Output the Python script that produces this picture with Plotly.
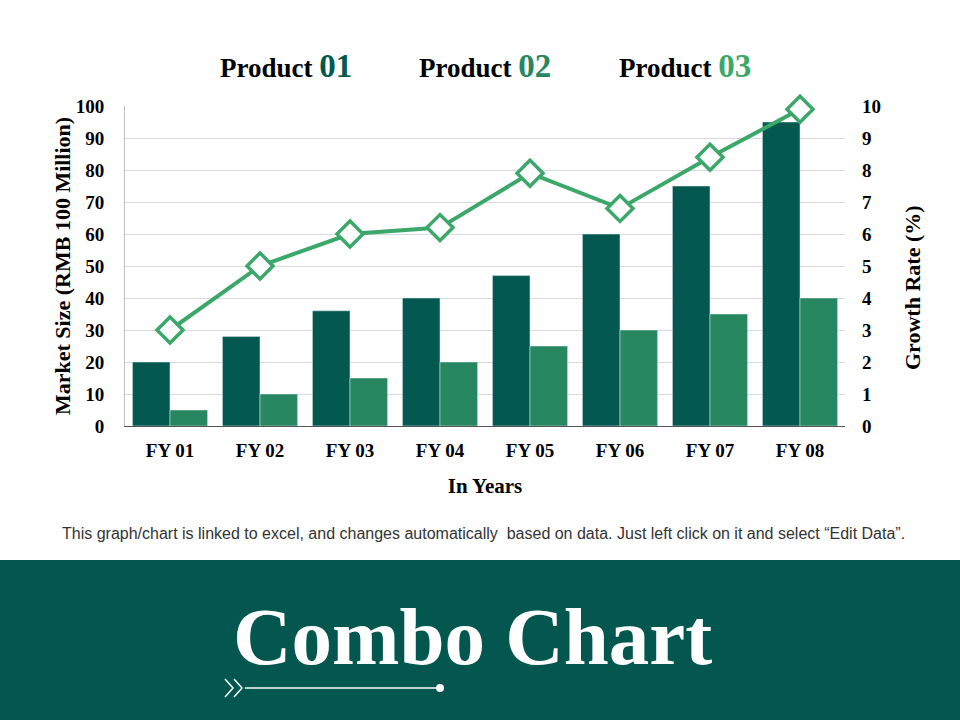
import plotly.graph_objects as go

years = ["FY 01", "FY 02", "FY 03", "FY 04", "FY 05", "FY 06", "FY 07", "FY 08"]
product_01 = [20, 28, 36, 40, 47, 60, 75, 95]
product_02 = [5, 10, 15, 20, 25, 30, 35, 40]
growth_03 = [3.0, 5.0, 6.0, 6.2, 7.9, 6.8, 8.4, 9.9]

C1 = "#03584F"
C2 = "#268760"
C3 = "#3BA86A"
SERIF = "Liberation Serif"

fig = go.Figure()
fig.add_trace(go.Bar(x=years, y=product_01, name="Product 01", marker_color=C1))
fig.add_trace(go.Bar(x=years, y=product_02, name="Product 02", marker_color=C2))
fig.add_trace(go.Scatter(
    x=years, y=growth_03, name="Product 03", yaxis="y2", mode="lines+markers",
    line=dict(color=C3, width=4), cliponaxis=False,
    marker=dict(symbol="diamond", size=20, color="white", line=dict(color=C3, width=3.5)),
))

fig.update_layout(
    width=960, height=720,
    margin=dict(l=125, r=115, t=106, b=294),
    paper_bgcolor="white", plot_bgcolor="white",
    barmode="group", bargap=0.165, bargroupgap=0,
    showlegend=False,
    font=dict(family=SERIF, color="black"),
    xaxis=dict(
        range=[-0.5, len(years) - 0.5],
        showline=True, linecolor="#555", linewidth=1, ticks="",
        ticklabelstandoff=7,
        tickfont=dict(size=19, family=SERIF, weight="bold"),
        title=dict(text="<b>In Years</b>", font=dict(size=21), standoff=18),
    ),
    yaxis=dict(
        range=[0, 100], dtick=10, showgrid=True, gridcolor="#d9d9d9",
        showline=True, linecolor="#bfbfbf", zeroline=False,
        ticklabelstandoff=16,
        tickfont=dict(size=19, family=SERIF, weight="bold"),
    ),
    yaxis2=dict(
        range=[0, 10], dtick=1, overlaying="y", side="right", showgrid=False,
        zeroline=False, ticklabelstandoff=16,
        tickfont=dict(size=19, family=SERIF, weight="bold"),
    ),
)


def px_x(v):
    return (v - 125) / 720


def px_y(v):
    return (426 - v) / 320


# axis titles placed like the original slide
fig.add_annotation(
    xref="paper", yref="paper", x=px_x(62), y=px_y(266), textangle=-90,
    text="<b>Market Size (RMB 100 Million)</b>", showarrow=False,
    font=dict(size=22, family=SERIF, color="black"), xanchor="center", yanchor="middle",
)
fig.add_annotation(
    xref="paper", yref="paper", x=px_x(912), y=px_y(287), textangle=-90,
    text="<b>Growth Rate (%)</b>", showarrow=False,
    font=dict(size=22, family=SERIF, color="black"), xanchor="center", yanchor="middle",
)

# legend as text
for label, num, col, px in [("Product", "01", C1, 286), ("Product", "02", C2, 485), ("Product", "03", C3, 685)]:
    fig.add_annotation(
        xref="paper", yref="paper", x=px_x(px), y=px_y(66),
        text=f"<b>{label} <span style='font-size:33px;color:{col}'>{num}</span></b>",
        showarrow=False, font=dict(size=27, family=SERIF, color="black"),
        xanchor="center", yanchor="middle",
    )

fig.add_annotation(
    xref="paper", yref="paper", x=px_x(483), y=px_y(533),
    text="This graph/chart is linked to excel, and changes automatically  based on data. Just left click on it and select \u201cEdit Data\u201d.",
    showarrow=False, font=dict(size=16, family="Liberation Sans", color="#333333"),
    xanchor="center", yanchor="middle",
)

# bottom banner
fig.add_shape(type="rect", xref="paper", yref="paper",
              x0=px_x(0), x1=px_x(960), y0=px_y(720), y1=px_y(560),
              fillcolor="#03574F", line_width=0, layer="below")
fig.add_annotation(
    xref="paper", yref="paper", x=px_x(472), y=px_y(637),
    text="<b>Combo Chart</b>", showarrow=False,
    font=dict(size=81, family=SERIF, color="white"),
    xanchor="center", yanchor="middle",
)

fig.add_shape(type="line", xref="paper", yref="paper",
              x0=px_x(245), x1=px_x(440), y0=px_y(688), y1=px_y(688),
              line=dict(color="white", width=1.5))
fig.add_shape(type="circle", xref="paper", yref="paper",
              x0=px_x(436), x1=px_x(444), y0=px_y(684), y1=px_y(692),
              fillcolor="white", line_width=0)
for sx in (225, 234):
    path = f"M {px_x(sx)},{px_y(679)} L {px_x(sx + 8)},{px_y(688)} L {px_x(sx)},{px_y(697)}"
    fig.add_shape(type="path", xref="paper", yref="paper", path=path,
                  line=dict(color="white", width=1.5))

fig.write_html("out.html", config={"displayModeBar": False},
               post_script="document.body.style.margin='0';")
